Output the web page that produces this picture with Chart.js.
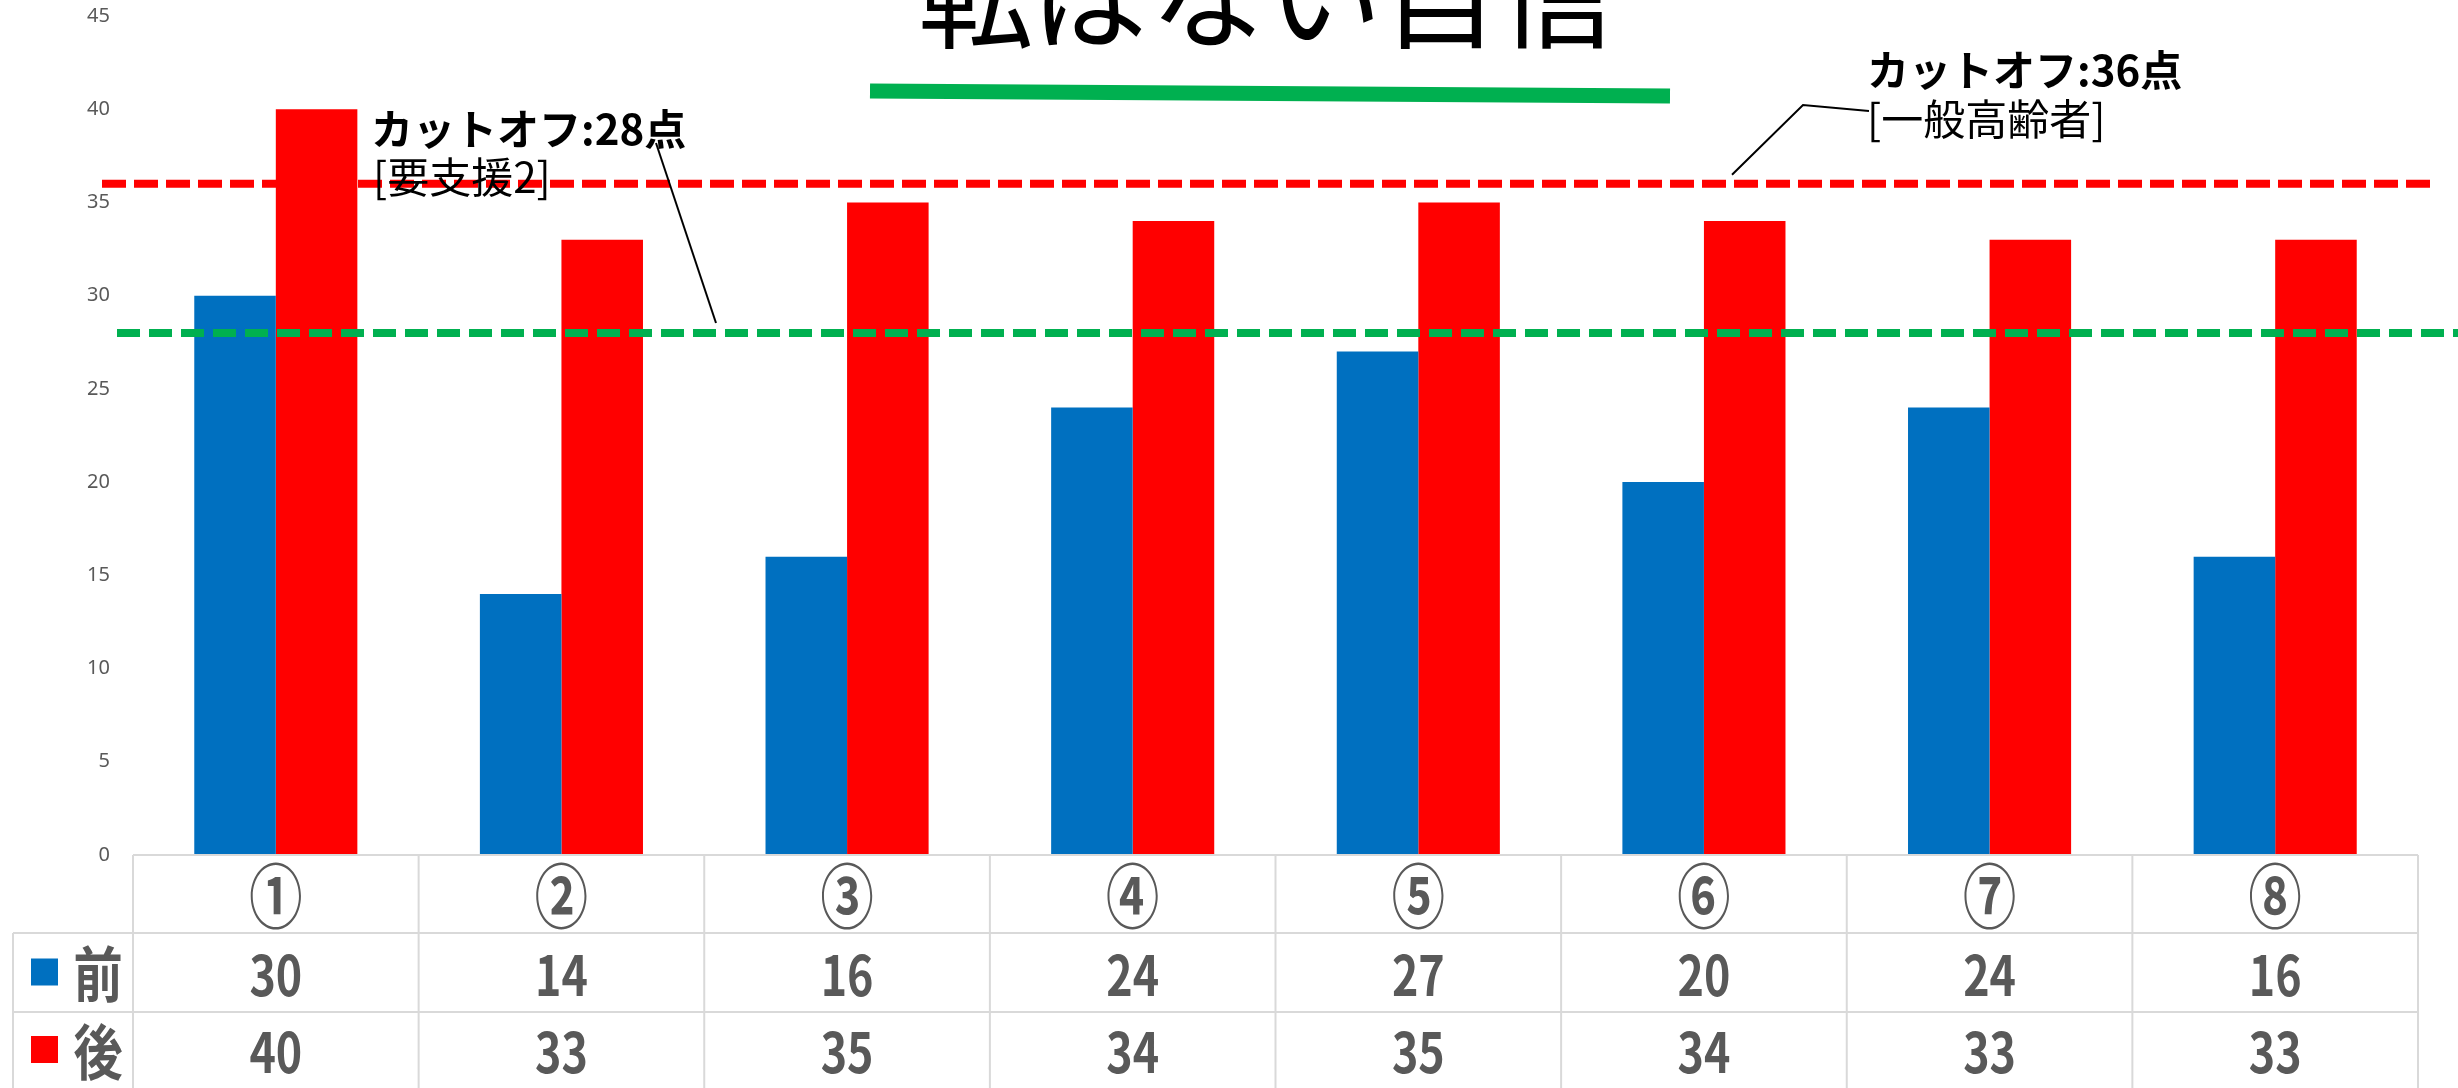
<!DOCTYPE html>
<html lang="ja">
<head>
<meta charset="utf-8">
<title>転ばない自信</title>
<script src="https://cdn.jsdelivr.net/npm/chart.js@4.4.1/dist/chart.umd.min.js"></script>
<style>
  html, body { margin: 0; padding: 0; background: #fff; }
</style>
</head>
<body>
<canvas id="myChart" width="2458" height="1088"></canvas>
<script>
// dados
const categorias = ['①', '②', '③', '④', '⑤', '⑥', '⑦', '⑧'];
const rotulosSeries = ['前', '後'];
const valoresAntes = [30, 14, 16, 24, 27, 20, 24, 16];
const valoresDepois = [40, 33, 35, 34, 35, 34, 33, 33];
const eixoMax = 45;
const eixoPasso = 5;
const corteGeral = 36;   // 一般高齢者
const corteApoio = 28;   // 要支援2
const titulo = '転ばない自信';

const corAntes = '#0070C0';
const corDepois = '#FF0000';
const corVerde = '#00B050';
const corTexto = '#595959';
const corGrade = '#D9D9D9';
const fonte = '"Noto Sans CJK JP", "Noto Sans", sans-serif';

const ctx = document.getElementById('myChart');

// escreve texto comprimido na horizontal
function textoEstreito(c, txt, x, y, esc) {
  c.save();
  c.translate(x, y);
  c.scale(esc, 1);
  c.fillText(txt, 0, 0);
  c.restore();
}

function linha(c, x1, y1, x2, y2) {
  c.beginPath();
  c.moveTo(x1, y1);
  c.lineTo(x2, y2);
  c.stroke();
}

// linhas de corte tracejadas
const pluginCortes = {
  id: 'cortes',
  afterDatasetsDraw(chart) {
    const c = chart.ctx;
    const area = chart.chartArea;
    const y = chart.scales.y;
    c.save();
    c.lineWidth = 8;
    c.lineCap = 'butt';

    c.strokeStyle = corDepois;
    c.setLineDash([24, 8]);
    linha(c, area.left - 31, y.getPixelForValue(corteGeral), area.right + 20, y.getPixelForValue(corteGeral));

    c.strokeStyle = corVerde;
    c.setLineDash([23, 9]);
    linha(c, area.left - 16, y.getPixelForValue(corteApoio), chart.width, y.getPixelForValue(corteApoio));
    c.restore();
  }
};

// tabela de dados embaixo + titulo + anotacoes
const pluginTabela = {
  id: 'tabela',
  afterDraw(chart) {
    const c = chart.ctx;
    const area = chart.chartArea;
    const x = chart.scales.x;
    const y = chart.scales.y;
    const larg = (area.right - area.left) / categorias.length;
    const topo = area.bottom;
    const linhas = [topo, topo + 78, topo + 157, chart.height];
    const esq = 13;

    c.save();
    c.strokeStyle = corGrade;
    c.lineWidth = 2;
    linha(c, area.left, linhas[0], area.right, linhas[0]);
    linha(c, esq, linhas[1], area.right, linhas[1]);
    linha(c, esq, linhas[2], area.right, linhas[2]);
    linha(c, esq, linhas[1], esq, linhas[3]);
    for (let i = 0; i <= categorias.length; i++) {
      const xi = area.left + i * larg;
      linha(c, xi, linhas[0], xi, linhas[3]);
    }

    c.fillStyle = corTexto;
    c.textAlign = 'center';
    c.textBaseline = 'middle';
    for (let i = 0; i < categorias.length; i++) {
      const xc = x.getPixelForValue(i);
      c.font = '700 70px ' + fonte;
      textoEstreito(c, categorias[i], xc, (linhas[0] + linhas[1]) / 2 + 2, 0.76);
      c.font = '700 56px ' + fonte;
      textoEstreito(c, String(valoresAntes[i]), xc, (linhas[1] + linhas[2]) / 2 + 2, 0.8);
      textoEstreito(c, String(valoresDepois[i]), xc, (linhas[2] + linhas[3]) / 2 + 2, 0.8);
    }

    // legenda dentro da tabela
    const cores = [corAntes, corDepois];
    for (let r = 0; r < 2; r++) {
      const ym = (linhas[r + 1] + linhas[r + 2]) / 2;
      c.fillStyle = cores[r];
      c.fillRect(31, ym - 14, 27, 27);
      c.fillStyle = corTexto;
      c.font = '700 60px ' + fonte;
      textoEstreito(c, rotulosSeries[r], 98, ym + 2, 0.82);
    }

    // titulo (cortado no topo)
    c.fillStyle = '#000';
    c.textAlign = 'center';
    c.textBaseline = 'alphabetic';
    c.font = '400 116px ' + fonte;
    c.fillText(titulo, 1266, 39);

    c.strokeStyle = corVerde;
    c.lineWidth = 15;
    c.setLineDash([]);
    linha(c, 870, 91, 1670, 96);

    // anotacoes das linhas de corte
    c.fillStyle = '#000';
    c.textAlign = 'left';
    c.textBaseline = 'middle';
    c.font = '700 42px ' + fonte;
    c.fillText('カットオフ:' + corteApoio + '点', 371, 129);
    c.fillText('カットオフ:' + corteGeral + '点', 1867, 70);
    c.font = '400 42px ' + fonte;
    c.fillText('[要支援2]', 373, 177);
    c.fillText('[一般高齢者]', 1867, 119);

    c.strokeStyle = '#000';
    c.lineWidth = 2;
    linha(c, 656, 143, 716, y.getPixelForValue(corteApoio) - 10);
    c.beginPath();
    c.moveTo(1732, y.getPixelForValue(corteGeral) - 9);
    c.lineTo(1803, 105);
    c.lineTo(1869, 111);
    c.stroke();
    c.restore();
  }
};

new Chart(ctx, {
  type: 'bar',
  data: {
    labels: categorias,
    datasets: [{
      label: rotulosSeries[0],
      data: valoresAntes,
      backgroundColor: corAntes,
      borderWidth: 0,
      categoryPercentage: 0.571,
      barPercentage: 1.0
    },
    {
      label: rotulosSeries[1],
      data: valoresDepois,
      backgroundColor: corDepois,
      borderWidth: 0,
      categoryPercentage: 0.571,
      barPercentage: 1.0
    }
    ]
  },
  options: {
    responsive: false,
    animation: false,
    layout: {
      padding: { top: 16, right: 40, bottom: 233, left: 0 }
    },
    scales: {
      x: {
        display: false
      },
      y: {
        min: 0,
        max: eixoMax,
        border: { display: false },
        // marcas invisiveis, so para afastar os rotulos do eixo
        grid: { display: false, drawTicks: true, tickLength: 23 },
        ticks: {
          stepSize: eixoPasso,
          padding: 0,
          color: corTexto,
          font: { family: '"Noto Sans", sans-serif', size: 20 }
        },
        afterFit: function (scale) {
          scale.width = 133;
        }
      }
    },
    plugins: {
      legend: { display: false },
      tooltip: { enabled: false }
    }
  },
  plugins: [pluginCortes, pluginTabela]
});
</script>
</body>
</html>
